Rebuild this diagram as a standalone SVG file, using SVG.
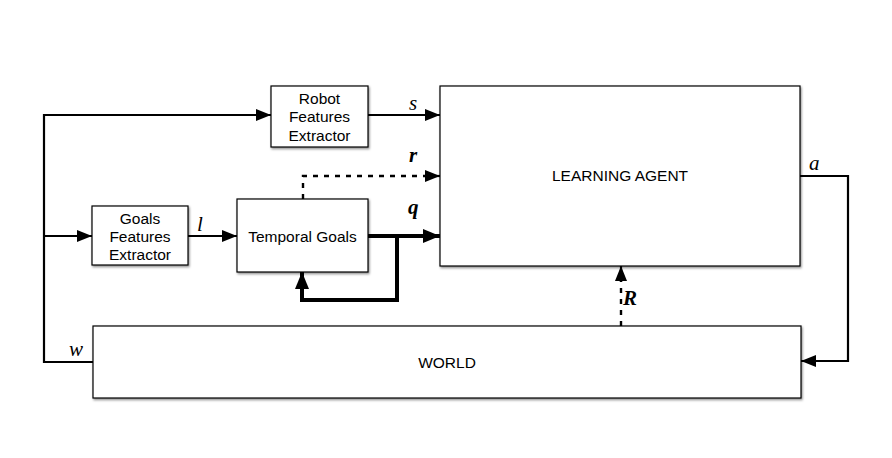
<svg xmlns="http://www.w3.org/2000/svg" width="892" height="458" viewBox="0 0 892 458">
<defs>
<filter id="sh" x="-5%" y="-5%" width="110%" height="115%">
<feDropShadow dx="1" dy="1.5" stdDeviation="0.8" flood-color="#000" flood-opacity="0.45"/>
</filter>
<marker id="ah" viewBox="0 0 15 12" refX="15" refY="6" markerWidth="15" markerHeight="12" markerUnits="userSpaceOnUse" orient="auto">
<path d="M0,0 L15,6 L0,12 Z" fill="#000"/>
</marker>
<marker id="ahb" viewBox="0 0 17 14" refX="17" refY="7" markerWidth="17" markerHeight="14" markerUnits="userSpaceOnUse" orient="auto">
<path d="M0,0 L17,7 L0,14 Z" fill="#000"/>
</marker>
</defs>
<style>
.box{fill:#fff;stroke:#000;stroke-width:1.2;filter:url(#sh)}
.t{font-family:"Liberation Sans",Arial,sans-serif;font-size:15.5px;text-anchor:middle;fill:#000}
.m{font-family:"Liberation Serif","Times New Roman",serif;font-size:21px;font-style:italic;fill:#000}
.mb{font-weight:bold}
.ln{fill:none;stroke:#000;stroke-width:2.2}
.th{fill:none;stroke:#000;stroke-width:4}
.ds{fill:none;stroke:#000;stroke-width:2.4;stroke-dasharray:5 6}
</style>
<rect width="892" height="458" fill="#fff"/>
<g id="connectors">
<polyline class="ln" points="93,362 44,362 44,115 271,115" marker-end="url(#ah)"/>
<line class="ln" x1="44" y1="236" x2="92" y2="236" marker-end="url(#ah)"/>
<line class="ln" x1="368" y1="115" x2="440" y2="115" marker-end="url(#ah)"/>
<line class="ln" x1="188" y1="236" x2="237" y2="236" marker-end="url(#ah)"/>
<polyline class="ds" points="303,199 303,176 426,176"/>
<line class="ln" x1="425" y1="176" x2="440" y2="176" marker-end="url(#ah)"/>
<line class="th" x1="368" y1="236" x2="440" y2="236" marker-end="url(#ahb)"/>
<polyline class="th" points="397,236 397,300 302,300 302,272" marker-end="url(#ahb)"/>
<polyline class="ln" points="800,176 848,176 848,361 801,361" marker-end="url(#ah)"/>
<line class="ds" x1="621" y1="326" x2="621" y2="280"/>
<line class="ln" x1="621" y1="282" x2="621" y2="266" marker-end="url(#ah)"/>
<text class="m" x="409" y="110">s</text>
<text class="m mb" x="409" y="162">r</text>
<text class="m mb" x="408" y="214">q</text>
<text class="m" x="197" y="231">l</text>
<text class="m" x="809" y="170">a</text>
<text class="m mb" x="623" y="305">R</text>
<text class="m" x="69" y="356">w</text>
</g>
<g id="robot-features">
<rect class="box" x="271" y="86" width="97" height="61"/>
<text class="t" x="319.5" y="103.5">Robot</text>
<text class="t" x="319.5" y="122">Features</text>
<text class="t" x="319.5" y="140.5">Extractor</text>
</g>
<g id="goals-features">
<rect class="box" x="92" y="206" width="96" height="59"/>
<text class="t" x="140" y="223.5">Goals</text>
<text class="t" x="140" y="241.5">Features</text>
<text class="t" x="140" y="260">Extractor</text>
</g>
<g id="temporal-goals">
<rect class="box" x="237" y="199" width="131" height="73"/>
<text class="t" x="302.5" y="241.5">Temporal Goals</text>
</g>
<g id="learning-agent">
<rect class="box" x="440" y="86" width="360" height="180"/>
<text class="t" x="620" y="180.5">LEARNING AGENT</text>
</g>
<g id="world">
<rect class="box" x="93" y="326" width="708" height="72"/>
<text class="t" x="447" y="367.5">WORLD</text>
</g>
</svg>
